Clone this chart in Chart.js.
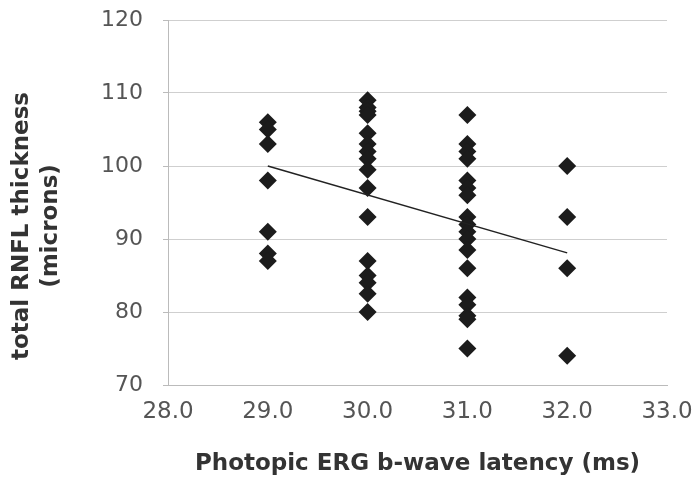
<!DOCTYPE html>
<html>
<head>
<meta charset="utf-8">
<script src="https://cdn.jsdelivr.net/npm/chart.js@4"></script>
<style>
  html, body { margin: 0; padding: 0; background: #fff; }
  #wrap { width: 697px; height: 478px; }
</style>
</head>
<body>
<div id="wrap"><canvas id="c" width="697" height="478"></canvas></div>
<script>
// RNFL thickness (microns) grouped by b-wave latency (ms)
const latencies = [29.0, 30.0, 31.0, 32.0];
const rnfl29 = [106, 105, 103, 98, 91, 88, 87];
const rnfl30 = [109, 108, 107.5, 107, 104.5, 103, 102, 101, 99.5, 97, 93, 87, 85, 84, 82.5, 80];
const rnfl31 = [107, 103, 102, 101, 98, 97, 96, 93, 92, 91, 90, 88.5, 86, 82, 81, 79.5, 79, 75];
const rnfl32 = [100, 93, 86, 74];
// linear fit endpoints
const trendX = [29.0, 32.0];
const trendY = [100.0, 88.1];
const yTitle = ['total RNFL thickness', '(microns)'];

const groups = [rnfl29, rnfl30, rnfl31, rnfl32];
const points = [];
groups.forEach(function (vals, i) {
  vals.forEach(function (v) { points.push({ x: latencies[i], y: v }); });
});
const trend = trendX.map(function (x, i) { return { x: x, y: trendY[i] }; });

const FONT = '"DejaVu Sans", "Open Sans", sans-serif';

// y title sits a bit below the plot centre in the original, so draw it by hand
const yTitlePlugin = {
  id: 'yTitle',
  afterDraw: function (chart) {
    const ctx = chart.ctx;
    ctx.save();
    ctx.translate(37, 226);
    ctx.rotate(-Math.PI / 2);
    ctx.font = 'bold 23px ' + FONT;
    ctx.fillStyle = '#333';
    ctx.textAlign = 'center';
    ctx.textBaseline = 'middle';
    ctx.fillText(yTitle[0], 0, -14.5);
    ctx.fillText(yTitle[1], 0, 14.5);
    ctx.restore();
  },
};

new Chart(document.getElementById('c').getContext('2d'), {
  type: 'scatter',
  data: {
    datasets: [
      {
        data: points,
        pointStyle: 'rectRot',
        pointRadius: 9,
        pointBackgroundColor: '#1c1c1c',
        pointBorderColor: '#1c1c1c',
        pointBorderWidth: 0,
        order: 2,
      },
      {
        type: 'line',
        data: trend,
        borderColor: '#222',
        borderWidth: 1.5,
        pointRadius: 0,
        fill: false,
        order: 1,
      },
    ],
  },
  plugins: [yTitlePlugin],
  options: {
    responsive: false,
    animation: false,
    layout: { padding: { top: 20, right: 30, left: 0, bottom: 0 } },
    plugins: { legend: { display: false }, tooltip: { enabled: false } },
    scales: {
      x: {
        type: 'linear',
        min: 28,
        max: 33,
        ticks: {
          stepSize: 1,
          color: '#555',
          font: { family: FONT, size: 23 },
          padding: 8,
          callback: function (v) { return v.toFixed(1); },
        },
        grid: { display: false, drawTicks: true, tickLength: 5 },
        border: { display: true, color: '#bbb' },
        title: {
          display: true,
          text: 'Photopic ERG b-wave latency (ms)',
          color: '#333',
          font: { family: FONT, size: 23, weight: 'bold' },
          padding: { top: 4, bottom: 0 },
        },
        afterFit: function (s) {
          s.height = 93;
          s.paddingLeft = 0;
          s.paddingRight = 0;
        },
      },
      y: {
        min: 70,
        max: 120,
        ticks: {
          stepSize: 10,
          color: '#555',
          font: { family: FONT, size: 22 },
          padding: 20,
        },
        grid: { color: '#cfcfcf', tickLength: 5, tickColor: '#bbb' },
        border: { display: true, color: '#bbb' },
        afterFit: function (s) {
          s.width = 168;
          s.paddingTop = 0;
          s.paddingBottom = 0;
        },
      },
    },
  },
});
</script>
</body>
</html>
